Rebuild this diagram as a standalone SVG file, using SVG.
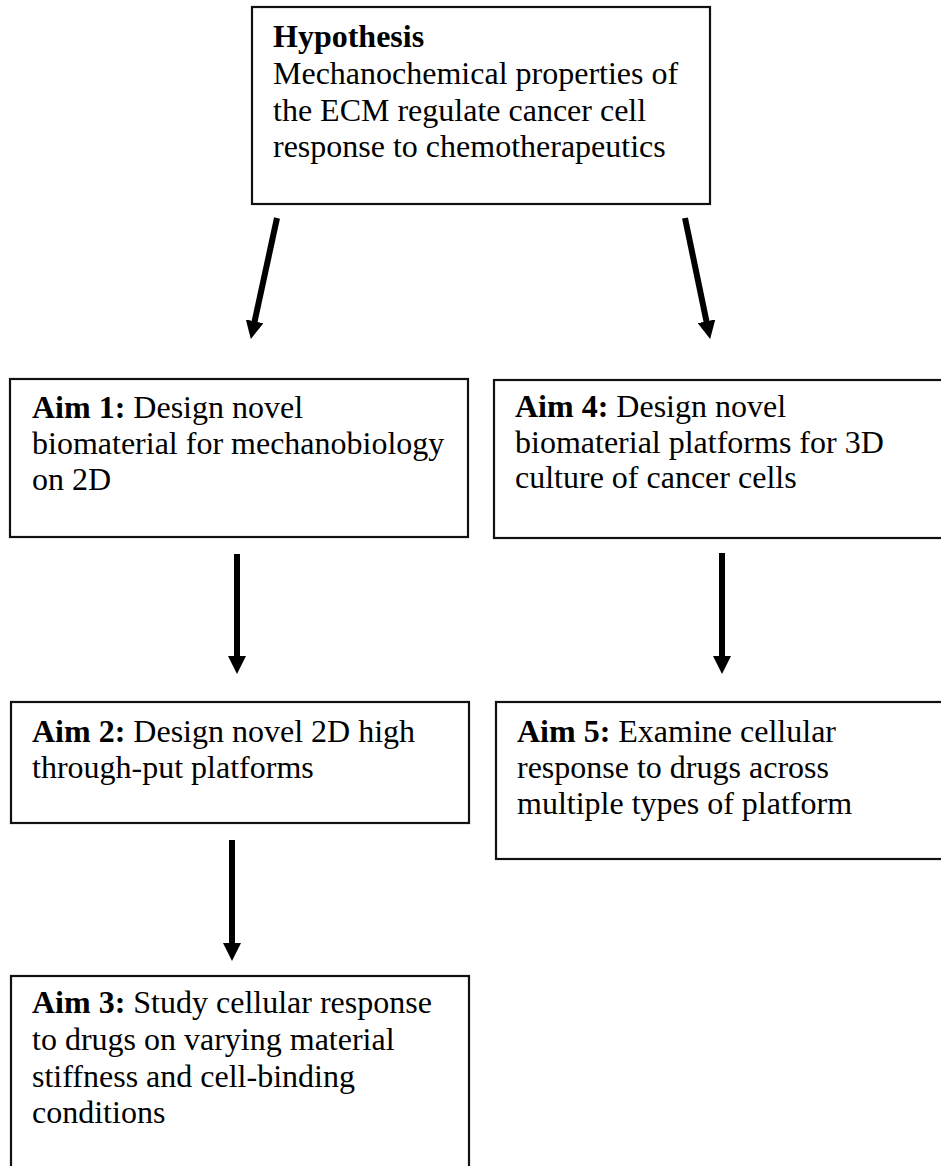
<svg xmlns="http://www.w3.org/2000/svg" width="941" height="1166" viewBox="0 0 941 1166">
<style>
  .box { fill: #ffffff; stroke: #111111; stroke-width: 2.2; }
  .t { font-family: "Liberation Serif", "Times New Roman", serif; font-size: 32px; fill: #000000; }
  .b { font-weight: bold; }
  .conn { stroke: #000000; stroke-width: 6; fill: none; }
</style>
<defs>
  <marker id="ah" markerUnits="userSpaceOnUse" markerWidth="18" markerHeight="18" refX="1" refY="8.5" orient="auto" viewBox="0 0 17 17">
    <path d="M0,0 L17,8.5 L0,17 Z" fill="#000000"/>
  </marker>
</defs>
<rect width="941" height="1166" fill="#ffffff"/>

<g id="hypothesis">
  <rect class="box" x="252" y="7" width="458" height="197"/>
  <text class="t" x="273" y="47"><tspan class="b">Hypothesis</tspan></text>
  <text class="t" x="273" y="84">Mechanochemical properties of</text>
  <text class="t" x="273" y="120.5">the ECM regulate cancer cell</text>
  <text class="t" x="273" y="157">response to chemotherapeutics</text>
</g>

<g id="aim1">
  <rect class="box" x="10" y="379" width="458" height="158"/>
  <text class="t" x="32" y="418"><tspan class="b">Aim 1:</tspan> Design novel</text>
  <text class="t" x="32" y="454">biomaterial for mechanobiology</text>
  <text class="t" x="32" y="490">on 2D</text>
</g>

<g id="aim4">
  <rect class="box" x="494" y="380" width="452" height="158"/>
  <text class="t" x="515" y="417"><tspan class="b">Aim 4:</tspan> Design novel</text>
  <text class="t" x="515" y="453">biomaterial platforms for 3D</text>
  <text class="t" x="515" y="488">culture of cancer cells</text>
</g>

<g id="aim2">
  <rect class="box" x="11" y="702" width="458" height="121"/>
  <text class="t" x="32" y="742"><tspan class="b">Aim 2:</tspan> Design novel 2D high</text>
  <text class="t" x="32" y="778">through-put platforms</text>
</g>

<g id="aim5">
  <rect class="box" x="496" y="702" width="450" height="157"/>
  <text class="t" x="517" y="742"><tspan class="b">Aim 5:</tspan> Examine cellular</text>
  <text class="t" x="517" y="778">response to drugs across</text>
  <text class="t" x="517" y="814">multiple types of platform</text>
</g>

<g id="aim3">
  <rect class="box" x="11" y="976" width="458" height="200"/>
  <text class="t" x="32" y="1013"><tspan class="b">Aim 3:</tspan> Study cellular response</text>
  <text class="t" x="32" y="1050">to drugs on varying material</text>
  <text class="t" x="32" y="1087">stiffness and cell-binding</text>
  <text class="t" x="32" y="1123">conditions</text>
</g>

<g id="connectors">
  <line class="conn" x1="277" y1="218" x2="254.4" y2="322.4" marker-end="url(#ah)"/>
  <line class="conn" x1="685" y1="218" x2="706.7" y2="322.3" marker-end="url(#ah)"/>
  <line class="conn" x1="237" y1="554" x2="237" y2="657" marker-end="url(#ah)"/>
  <line class="conn" x1="722" y1="553" x2="722" y2="657" marker-end="url(#ah)"/>
  <line class="conn" x1="232" y1="840" x2="232" y2="944" marker-end="url(#ah)"/>
</g>
</svg>
